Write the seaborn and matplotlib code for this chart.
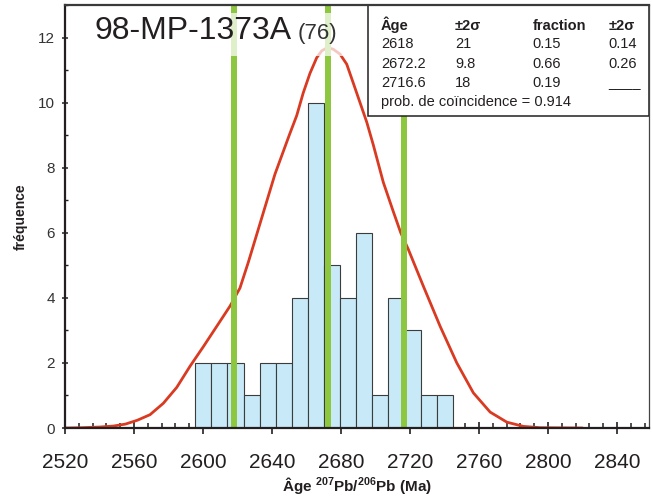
import pandas as pd
import matplotlib
matplotlib.use("Agg")
import matplotlib.pyplot as plt
import matplotlib.ticker as mticker
from matplotlib.patches import Rectangle
import seaborn as sns

# histogramme (classes de ~9.33 Ma)
bin_start = 2595.5
bin_width = 9.33
counts = [2, 2, 2, 1, 2, 2, 4, 10, 5, 4, 6, 1, 4, 3, 1, 1]

# courbe de probabilite
curve_age = [2520, 2530, 2540, 2548, 2555, 2562, 2569.3, 2577, 2584.8, 2592.5,
             2600.2, 2607.9, 2615.7, 2621.4, 2626.3, 2634, 2641.7, 2650, 2654.3, 2658.1,
             2662, 2665.9, 2668.8, 2672.1, 2675.5, 2679.4, 2683.3, 2687.1, 2691, 2694.9,
             2698.7, 2704.5, 2710.3, 2714.6, 2719, 2727.7, 2737.4, 2747.1, 2756.7, 2766.4,
             2776.1, 2785.7, 2795.4, 2820]
curve_val = [0, 0.01, 0.03, 0.06, 0.12, 0.24, 0.41, 0.76, 1.25, 1.9,
             2.5, 3.12, 3.75, 4.3, 5.1, 6.45, 7.8, 9.0, 9.6, 10.3,
             10.9, 11.38, 11.59, 11.69, 11.64, 11.49, 11.18, 10.6, 10.0, 9.4,
             8.7, 7.55, 6.65, 6.0, 5.49, 4.36, 3.13, 2.0, 1.08, 0.49,
             0.18, 0.05, 0.01, 0]

# composantes (deconvolution)
peak_ages = [2618, 2672.2, 2716.6]
table_header = ["Âge", "±2σ", "fraction", "±2σ"]
table_rows = [["2618", "21", "0.15", "0.14"],
              ["2672.2", "9.8", "0.66", "0.26"],
              ["2716.6", "18", "0.19", "____"]]
prob_text = "prob. de coïncidence = 0.914"

sample = "98-MP-1373A"
n_grains = "(76)"

sns.set_style("ticks")
plt.rcParams['font.family'] = ['Liberation Sans', 'DejaVu Sans']
plt.rcParams['mathtext.fontset'] = 'custom'
plt.rcParams['mathtext.rm'] = 'Liberation Sans'
plt.rcParams['mathtext.bf'] = 'Liberation Sans:bold'

dark = '#231f20'
edges = [bin_start + bin_width * i for i in range(len(counts) + 1)]
df = pd.DataFrame({'age': [(edges[i] + edges[i + 1]) / 2 for i in range(len(counts))],
                   'n': counts})

fig = plt.figure(figsize=(6.53, 4.97), dpi=100)
ax = fig.add_axes([0.0995, 0.1388, 0.8944, 0.8512])

sns.histplot(data=df, x='age', weights='n', bins=edges, stat='count', ax=ax,
             color='#c8e9f8', edgecolor='#3c3c3c', linewidth=0.8, alpha=1, zorder=1)
sns.lineplot(x=curve_age, y=curve_val, ax=ax, color='#d93a22', linewidth=2,
             sort=False, estimator=None, zorder=2)
for a in peak_ages:
    ax.axvline(a, color='#8dc63f', lw=4.3, zorder=3)

ax.set_xlim(2520, 2858.5)
ax.set_ylim(0, 13)
ax.xaxis.set_major_locator(mticker.MultipleLocator(40))
ax.xaxis.set_minor_locator(mticker.MultipleLocator(8))
ax.yaxis.set_major_locator(mticker.MultipleLocator(2))
ax.yaxis.set_minor_locator(mticker.MultipleLocator(1))

ax.tick_params(axis='x', which='major', direction='inout', length=8, width=1.2,
               labelsize=15, pad=14, colors=dark)
ax.tick_params(axis='x', which='minor', direction='in', length=3.6, width=1.1, colors=dark)
ax.tick_params(axis='y', which='major', direction='inout', length=4.5, width=1.1,
               labelsize=11, pad=5, colors=dark, labelcolor='#333333')
ax.tick_params(axis='y', which='minor', direction='in', length=2, width=1.0, colors=dark)

for s in ['left', 'bottom', 'top']:
    ax.spines[s].set_linewidth(1.6)
    ax.spines[s].set_color(dark)
ax.spines['top'].set_color('#3a3a3a')
ax.spines['right'].set_linewidth(0.9)
ax.spines['right'].set_color('#444444')
for s in ax.spines.values():
    s.set_zorder(10)

ax.set_ylabel("fréquence", fontsize=10, fontweight='bold', color=dark)
ax.yaxis.set_label_coords(-0.063, 0.5)
ax.set_xlabel(r"Âge $^{\mathbf{207}}$Pb/$^{\mathbf{206}}$Pb (Ma)", fontsize=11,
              fontweight='bold', color=dark, va='top')
ax.xaxis.set_label_coords(0.5, -0.112)

# titre avec voile blanc
ax.add_patch(Rectangle((0.039, 0.879), 0.47, 0.102, transform=ax.transAxes,
                       facecolor='white', alpha=0.72, edgecolor='none', zorder=4))
ax.text(0.0514, 0.920, sample, transform=ax.transAxes, fontsize=23, color=dark, zorder=5)
ax.text(0.399, 0.920, n_grains, transform=ax.transAxes, fontsize=16, color='#333333', zorder=5)

# tableau des composantes
ax.add_patch(Rectangle((0.519, 0.738), 0.481, 0.262, transform=ax.transAxes,
                       facecolor='white', edgecolor=dark, linewidth=1.1, zorder=6,
                       clip_on=False))
col_x = [0.541, 0.668, 0.801, 0.930]
row_y = [0.941, 0.898, 0.851, 0.806]
for cx, h in zip(col_x, table_header):
    ax.text(cx, row_y[0], h, transform=ax.transAxes, fontsize=10.5,
            fontweight='bold', color=dark, zorder=7)
for ry, row in zip(row_y[1:], table_rows):
    for cx, v in zip(col_x, row):
        ax.text(cx, ry, v, transform=ax.transAxes, fontsize=10.5, color=dark, zorder=7)
ax.text(col_x[0], 0.761, prob_text, transform=ax.transAxes, fontsize=10.5,
        color=dark, zorder=7)

fig.savefig("out.png", dpi=100)
